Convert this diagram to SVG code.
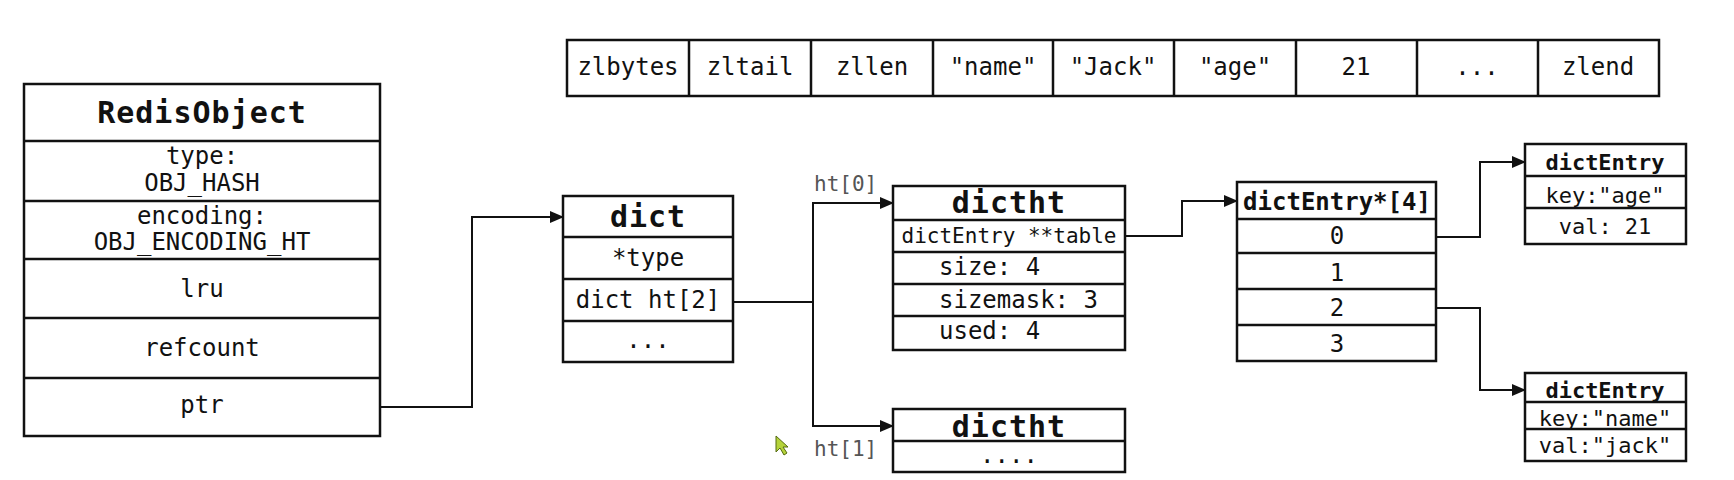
<svg xmlns="http://www.w3.org/2000/svg" width="1734" height="480" viewBox="0 0 1734 480">
<style>
.box{fill:#fff;stroke:#111;stroke-width:2.5}
.ln{stroke:#111;stroke-width:2.5;fill:none}
.t{font-family:"DejaVu Sans Mono","Liberation Mono",monospace;fill:#111;text-anchor:middle}
.n{font-size:24px}
.s{font-size:21px}
.k{font-size:22px}
.b{font-weight:bold}
.h1{font-size:30px;letter-spacing:1px}
.h2{font-size:24px}
.h3{font-size:22px}
.l{text-anchor:start}
.g{fill:#555}
.c{stroke:#111;stroke-width:2;fill:none}
</style>
<defs>
<marker id="arr" markerUnits="userSpaceOnUse" markerWidth="14" markerHeight="12" refX="13" refY="6" orient="auto">
<path d="M0,0 L14,6 L0,12 Z" fill="#111"/>
</marker>
</defs>
<rect width="1734" height="480" fill="#fff"/>

<g id="ziplist">
<rect class="box" x="567" y="40" width="1092" height="56"/>
<path class="ln" d="M689,40V96M811,40V96M933,40V96M1053,40V96M1174,40V96M1296,40V96M1417,40V96M1538,40V96"/>
<text class="t n" y="75"><tspan x="628">zlbytes</tspan><tspan x="750">zltail</tspan><tspan x="872">zllen</tspan><tspan x="993">"name"</tspan><tspan x="1113">"Jack"</tspan><tspan x="1235">"age"</tspan><tspan x="1356">21</tspan><tspan x="1477">...</tspan><tspan x="1598">zlend</tspan></text>
</g>

<g id="redisobject">
<rect class="box" x="24" y="84" width="356" height="352"/>
<path class="ln" d="M24,141H380M24,201H380M24,259H380M24,318H380M24,378H380"/>
<text class="t b h1" x="202" y="123">RedisObject</text>
<text class="t n" x="202" y="164">type:</text>
<text class="t n" x="202" y="191">OBJ_HASH</text>
<text class="t n" x="202" y="224">encoding:</text>
<text class="t n" x="202" y="250">OBJ_ENCODING_HT</text>
<text class="t n" x="202" y="297">lru</text>
<text class="t n" x="202" y="356">refcount</text>
<text class="t n" x="202" y="413">ptr</text>
</g>

<g id="dict">
<rect class="box" x="563" y="196" width="170" height="166"/>
<path class="ln" d="M563,237H733M563,279H733M563,321H733"/>
<text class="t b h1" x="648" y="227">dict</text>
<text class="t n" x="648" y="266">*type</text>
<text class="t n" x="648" y="308">dict ht[2]</text>
<text class="t n" x="648" y="348">...</text>
</g>

<g id="dictht0">
<rect class="box" x="893" y="186" width="232" height="164"/>
<path class="ln" d="M893,220H1125M893,252H1125M893,284H1125M893,316H1125"/>
<text class="t b h1" x="1009" y="213">dictht</text>
<text class="t s" x="1009" y="243">dictEntry **table</text>
<text class="t n l" x="939" y="275">size: 4</text>
<text class="t n l" x="939" y="308">sizemask: 3</text>
<text class="t n l" x="939" y="339">used: 4</text>
</g>

<g id="dictht1">
<rect class="box" x="893" y="409" width="232" height="63"/>
<path class="ln" d="M893,441H1125"/>
<text class="t b h1" x="1009" y="437">dictht</text>
<text class="t n" x="1009" y="463">....</text>
</g>

<g id="table">
<rect class="box" x="1237" y="182" width="199" height="179"/>
<path class="ln" d="M1237,219H1436M1237,253H1436M1237,289H1436M1237,325H1436"/>
<text class="t b h2" x="1337" y="210">dictEntry*[4]</text>
<text class="t n" x="1337" y="244">0</text>
<text class="t n" x="1337" y="281">1</text>
<text class="t n" x="1337" y="316">2</text>
<text class="t n" x="1337" y="352">3</text>
</g>

<g id="entry-age">
<rect class="box" x="1525" y="144" width="161" height="100"/>
<path class="ln" d="M1525,176H1686M1525,208H1686"/>
<text class="t b h3" x="1605" y="170">dictEntry</text>
<text class="t k" x="1605" y="203">key:"age"</text>
<text class="t k" x="1605" y="234">val: 21</text>
</g>

<g id="entry-name">
<rect class="box" x="1525" y="373" width="161" height="88"/>
<path class="ln" d="M1525,402H1686M1525,429H1686"/>
<text class="t b h3" x="1605" y="398">dictEntry</text>
<text class="t k" x="1605" y="426">key:"name"</text>
<text class="t k" x="1605" y="453">val:"jack"</text>
</g>

<g id="connectors">
<path class="c" d="M380,407H472V217H563" marker-end="url(#arr)"/>
<path class="c" d="M733,302H813V203H893" marker-end="url(#arr)"/>
<path class="c" d="M813,302V426H893" marker-end="url(#arr)"/>
<path class="c" d="M1125,236H1182V201H1237" marker-end="url(#arr)"/>
<path class="c" d="M1436,237H1480V162H1525" marker-end="url(#arr)"/>
<path class="c" d="M1436,308H1480V390H1525" marker-end="url(#arr)"/>
<text class="t s g l" x="814" y="191">ht[0]</text>
<text class="t s g l" x="814" y="456">ht[1]</text>
</g>

<polygon points="776,436 776,452 780,448 784,455 787,453 783,447 788,447" fill="#b5d33a" stroke="#556b10" stroke-width="1"/>
</svg>
